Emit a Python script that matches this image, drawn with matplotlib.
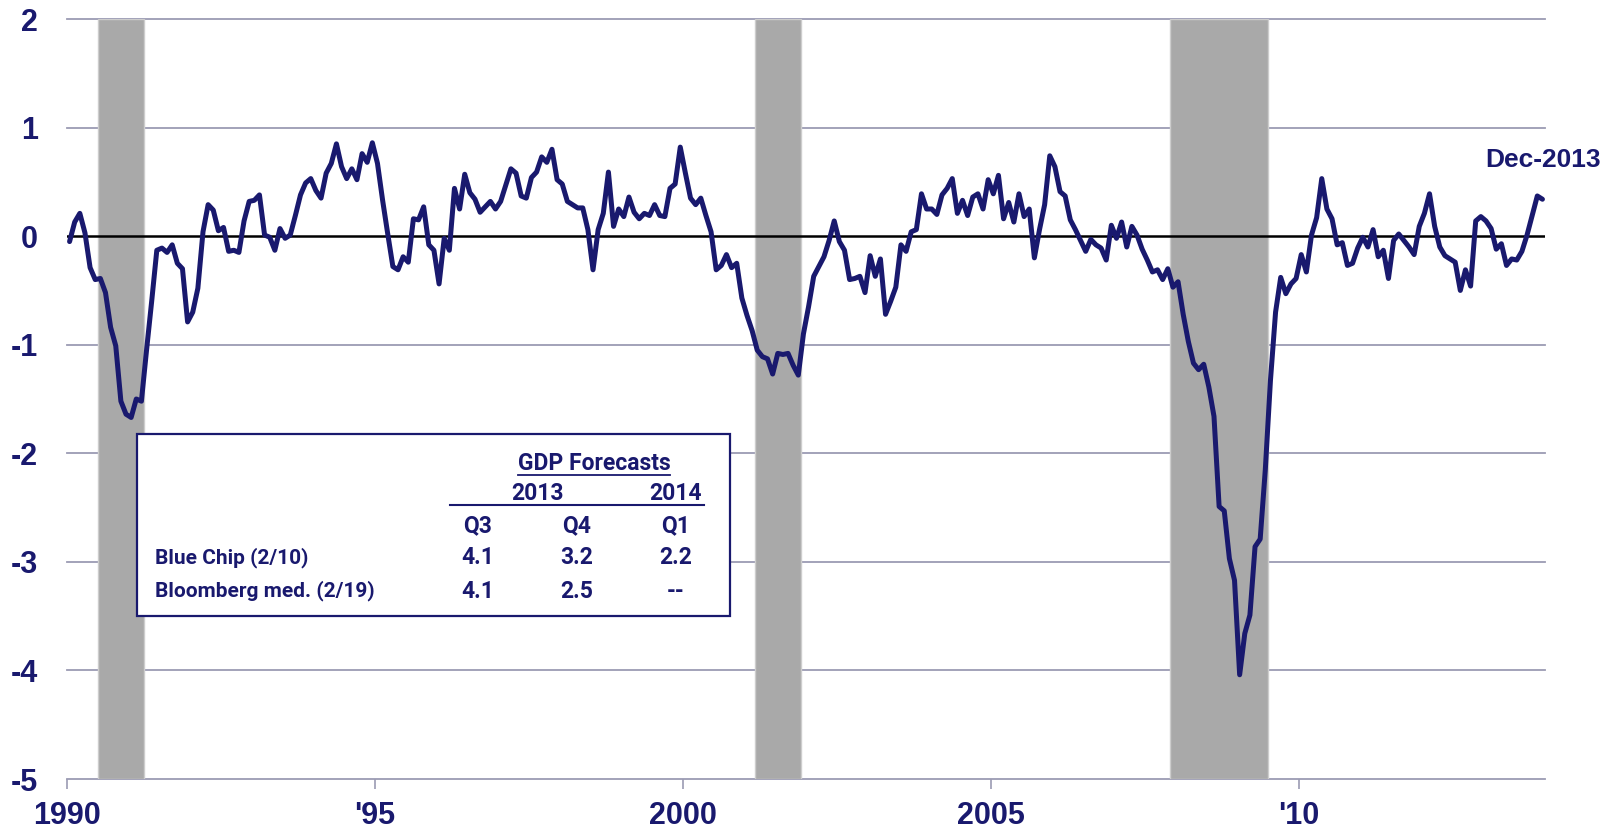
import matplotlib
matplotlib.use("Agg")
import matplotlib.pyplot as plt
from matplotlib.patches import Rectangle
from matplotlib.lines import Line2D
import numpy as np

plt.rcParams['font.family'] = ['Liberation Sans', 'DejaVu Sans']

# ---------------- data (monthly, Jan 1990 - Dec 2013) ----------------
start_year = 1990
vals_1990s = [
    -0.05, 0.13, 0.21, 0.03, -0.29, -0.40, -0.39, -0.52, -0.84, -1.01, -1.52, -1.64,   # 1990
    -1.67, -1.50, -1.52, -1.05, -0.60, -0.13, -0.11, -0.15, -0.08, -0.25, -0.30, -0.79,  # 1991
    -0.70, -0.48, 0.04, 0.29, 0.24, 0.05, 0.08, -0.14, -0.13, -0.15, 0.14, 0.32,         # 1992
    0.33, 0.38, 0.01, -0.01, -0.13, 0.07, -0.02, 0.01, 0.19, 0.38, 0.49, 0.53,           # 1993
    0.42, 0.35, 0.58, 0.67, 0.85, 0.64, 0.53, 0.62, 0.52, 0.76, 0.68, 0.86,              # 1994
    0.67, 0.33, 0.02, -0.28, -0.31, -0.19, -0.24, 0.16, 0.15, 0.27, -0.08, -0.13,        # 1995
    -0.44, -0.02, -0.13, 0.44, 0.25, 0.57, 0.40, 0.34, 0.22, 0.27, 0.32, 0.25,           # 1996
    0.32, 0.47, 0.62, 0.58, 0.37, 0.35, 0.54, 0.59, 0.73, 0.68, 0.80, 0.52,              # 1997
    0.48, 0.32, 0.29, 0.26, 0.26, 0.06, -0.31, 0.06, 0.21, 0.59, 0.09, 0.25,             # 1998
    0.18, 0.36, 0.22, 0.16, 0.21, 0.19, 0.29, 0.19, 0.18, 0.44, 0.48, 0.82,              # 1999
]
vals_2000s = [
    0.58, 0.35, 0.29, 0.35, 0.19, 0.04, -0.31, -0.27, -0.17, -0.29, -0.25, -0.57,        # 2000
    -0.73, -0.87, -1.05, -1.11, -1.13, -1.27, -1.08, -1.09, -1.08, -1.19, -1.28, -0.90,  # 2001
    -0.65, -0.37, -0.28, -0.19, -0.04, 0.14, -0.05, -0.13, -0.40, -0.39, -0.37, -0.52,   # 2002
    -0.18, -0.37, -0.21, -0.72, -0.60, -0.47, -0.08, -0.14, 0.04, 0.06, 0.39, 0.25,      # 2003
    0.25, 0.20, 0.38, 0.44, 0.53, 0.21, 0.33, 0.19, 0.36, 0.39, 0.25, 0.52,              # 2004
    0.39, 0.56, 0.16, 0.31, 0.13, 0.39, 0.18, 0.25, -0.20, 0.06, 0.29, 0.74,             # 2005
    0.64, 0.41, 0.37, 0.15, 0.06, -0.04, -0.14, -0.03, -0.08, -0.11, -0.22, 0.10,        # 2006
    -0.02, 0.13, -0.10, 0.09, 0.01, -0.12, -0.22, -0.33, -0.31, -0.40, -0.30, -0.47,     # 2007
    -0.42, -0.72, -0.97, -1.17, -1.23, -1.18, -1.39, -1.66, -2.49, -2.53, -2.97, -3.17,  # 2008
    -4.04, -3.66, -3.49, -2.86, -2.79, -2.15, -1.33, -0.70, -0.38, -0.53, -0.44, -0.39,  # 2009
]
vals_2010s = [
    -0.17, -0.33, 0.01, 0.17, 0.53, 0.25, 0.16, -0.08, -0.06, -0.27, -0.25, -0.11,      # 2010
    -0.01, -0.10, 0.06, -0.19, -0.13, -0.39, -0.04, 0.02, -0.04, -0.10, -0.17, 0.09,     # 2011
    0.21, 0.39, 0.09, -0.10, -0.18, -0.21, -0.24, -0.50, -0.31, -0.46, 0.14, 0.18,       # 2012
    0.14, 0.07, -0.12, -0.07, -0.27, -0.21, -0.22, -0.14, 0.01, 0.19, 0.37, 0.34,        # 2013
]
recession_starts = [(1990, 7), (2001, 3), (2007, 12)]
recession_ends = [(1991, 3), (2001, 11), (2009, 6)]

xtick_years = [1990, 1995, 2000, 2005, 2010]
xtick_labels = ["1990", "'95", "2000", "2005", "'10"]
yticks = [-5, -4, -3, -2, -1, 0, 1, 2]
ytick_labels = ["-5", "-4", "-3", "-2", "-1", "0", "1", "2"]
end_label = "Dec-2013"

table_title = "GDP Forecasts"
table_years = ["2013", "2014"]
table_quarters = ["Q3", "Q4", "Q1"]
table_rows = ["Blue Chip (2/10)", "Bloomberg med. (2/19)"]
table_values = [["4.1", "3.2", "2.2"], ["4.1", "2.5", "--"]]

# ---------------- styling ----------------
NAVY = '#19196e'
GRID = '#9b9bb3'
SHADE = '#a9a9a9'
W, H = 1618, 836

values = np.array(vals_1990s + vals_2000s + vals_2010s)
xs = start_year + (np.arange(len(values)) + 0.5) / 12.0

fig = plt.figure(figsize=(W / 100, H / 100), dpi=100)
left, right, top, bottom = 67, 1545, 19, 779
ax = fig.add_axes([left / W, 1 - bottom / H, (right - left) / W, (bottom - top) / H])
ax.set_xlim(1990, 2014)
ax.set_ylim(-5, 2)

for s in ['top', 'right', 'left']:
    ax.spines[s].set_visible(False)
ax.spines['bottom'].set_color(GRID)
ax.spines['bottom'].set_linewidth(1.3)
ax.spines['bottom'].set_zorder(0.5)

for yv in yticks:
    if yv in (0, -5):
        continue
    ax.axhline(yv, color=GRID, lw=1.3, zorder=0.5, clip_on=False)

for (sy, sm), (ey, em) in zip(recession_starts, recession_ends):
    x0 = sy + (sm - 1) / 12.0
    x1 = ey + em / 12.0
    ax.axvspan(x0, x1, facecolor=SHADE, edgecolor='#cdcdcd', lw=1.0, zorder=1)

ax.axhline(0, color='black', lw=1.8, zorder=3)
ax.plot(xs, values, color=NAVY, lw=3.6, zorder=4,
        solid_joinstyle='round', solid_capstyle='round')

ax.set_yticks(yticks)
ax.set_yticklabels(ytick_labels)
ax.set_xticks(xtick_years)
ax.set_xticklabels(xtick_labels)
ax.tick_params(axis='y', length=0, pad=21, labelsize=22, labelcolor=NAVY)
ax.tick_params(axis='x', length=7, width=1.2, color=GRID, direction='out',
               pad=9, labelsize=22, labelcolor=NAVY)
for lab in ax.get_xticklabels() + ax.get_yticklabels():
    lab.set_fontweight('bold')

# end label
fig.text(1485 / W, 1 - 167 / H, end_label, ha='left', va='baseline',
         fontsize=19, fontweight='bold', color=NAVY)

# ---------------- forecast table ----------------
def fx(px):
    return px / W

def fy(py):
    return 1 - py / H

bx0, bx1, by0, by1 = 137, 730, 434, 616
box = Rectangle((fx(bx0), fy(by1)), fx(bx1) - fx(bx0), fy(by0) - fy(by1),
                transform=fig.transFigure, facecolor='white', edgecolor=NAVY,
                lw=1.6, zorder=10)
fig.patches.append(box)

hfont = dict(family=['Roboto', 'DejaVu Sans'], fontweight='bold', color=NAVY,
             fontsize=16.5, zorder=11)
rfont = dict(hfont, fontsize=15)
col_x = [478, 577, 676]

t = fig.text(fx(594), fy(463), table_title, ha='center', va='center', **hfont)
fig.canvas.draw()
bb = t.get_window_extent()
fig.add_artist(Line2D([bb.x0 / W, bb.x1 / W], [fy(475), fy(475)],
                      transform=fig.transFigure, color=NAVY, lw=1.3, zorder=11))

fig.text(fx(537), fy(493), table_years[0], ha='center', va='center', **hfont)
fig.text(fx(676), fy(493), table_years[1], ha='center', va='center', **hfont)
fig.add_artist(Line2D([fx(450), fx(704)], [fy(505), fy(505)],
                      transform=fig.transFigure, color=NAVY, lw=1.5, zorder=11))
for q, cx in zip(table_quarters, col_x):
    fig.text(fx(cx), fy(526), q, ha='center', va='center', **hfont)
row_y = [558, 591]
for name, rv, ry in zip(table_rows, table_values, row_y):
    fig.text(fx(155), fy(ry), name, ha='left', va='center', **rfont)
    for v, cx in zip(rv, col_x):
        fig.text(fx(cx), fy(ry), v, ha='center', va='center', **hfont)

fig.savefig('out.png', dpi=100)
